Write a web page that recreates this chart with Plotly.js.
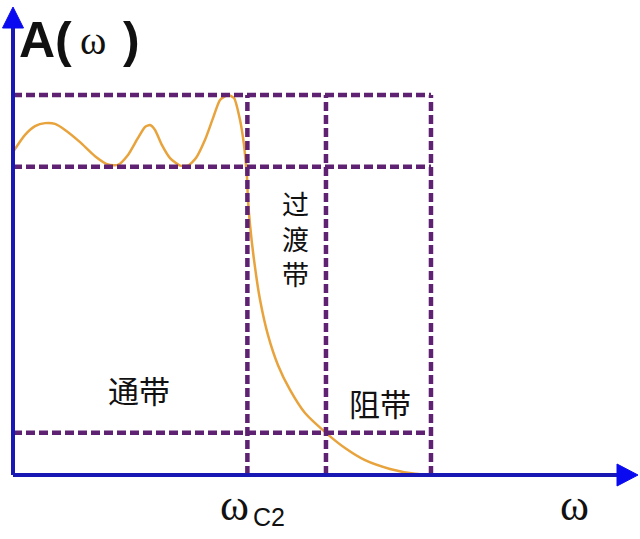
<!DOCTYPE html>
<html>
<head>
<meta charset="utf-8">
<script src="https://cdn.plot.ly/plotly-3.0.1.min.js"></script>
<style>html,body{margin:0;padding:0;background:#fff;}#chart{width:640px;height:539px;}</style>
</head>
<body>
<div id="chart"></div>
<script>
// ---- data (frequency ω, amplitude A) ----
var omega = [0, 0.154, 0.282, 0.41, 0.538, 0.666, 0.858, 1.05, 1.216, 1.344, 1.472, 1.6, 1.69, 1.754, 1.818, 1.907, 2.01, 2.138, 2.24, 2.342, 2.458, 2.56, 2.65, 2.752, 2.829, 2.906, 2.957, 2.982, 2.995, 3.008, 3.034, 3.085, 3.162, 3.264, 3.392, 3.546, 3.738, 4.006, 4.25, 4.506, 4.826, 5.146, 5.35, 5.658];
var amplitude = [0.85, 0.895, 0.918, 0.926, 0.924, 0.908, 0.876, 0.839, 0.817, 0.816, 0.842, 0.887, 0.916, 0.921, 0.908, 0.868, 0.834, 0.814, 0.814, 0.834, 0.882, 0.939, 0.987, 1.0, 0.992, 0.934, 0.868, 0.816, 0.785, 0.724, 0.658, 0.566, 0.461, 0.368, 0.289, 0.224, 0.163, 0.111, 0.071, 0.039, 0.016, 0.003, 0, 0];
var rippleLevels = [1.0, 0.811];        // passband ripple bounds
var stopLevel = 0.111;                   // stopband level
var bandEdges = [3.0, 4.006, 5.35];      // ωc2, ωs, end of stop band box
var bandLabels = ['通带', '过渡带', '阻带'];

// ---- pixel helpers for layout ----
var X0 = 13, PXU = 78.125, Y0 = 475, PYU = 380;
function px(p){ return (p - X0) / PXU; }
function py(p){ return (Y0 - p) / PYU; }

var purple = '#5f2272';
var dash = '9px,4px';
var shapes = [];
// horizontal dashed lines
rippleLevels.concat([stopLevel]).forEach(function(v){
  shapes.push({type:'line', xref:'x', yref:'y', x0:0, x1:bandEdges[2], y0:v, y1:v,
    line:{color:purple, width:4.5, dash:dash}});
});
// vertical dashed lines
bandEdges.forEach(function(v){
  shapes.push({type:'line', xref:'x', yref:'y', x0:v, x1:v, y0:0, y1:rippleLevels[0],
    line:{color:purple, width:4.5, dash:dash}});
});
// axes
var axisBlue = '#1818b4', arrowBlue = '#0a0af0';
shapes.push({type:'line', xref:'x', yref:'y', x0:0, x1:0, y0:0, y1:py(26), line:{color:axisBlue, width:4}});
shapes.push({type:'line', xref:'x', yref:'y', x0:0, x1:px(620), y0:0, y1:0, line:{color:axisBlue, width:4}});
shapes.push({type:'path', xref:'x', yref:'y',
  path:'M '+px(2.5)+' '+py(28)+' L '+px(13)+' '+py(7)+' L '+px(23.5)+' '+py(28)+' Z',
  fillcolor:arrowBlue, line:{color:arrowBlue, width:1}});
shapes.push({type:'path', xref:'x', yref:'y',
  path:'M '+px(617)+' '+py(464)+' L '+px(638)+' '+py(475)+' L '+px(617)+' '+py(486)+' Z',
  fillcolor:arrowBlue, line:{color:arrowBlue, width:1}});

var cjk = '"Noto Sans CJK SC", sans-serif';
function ann(text, x, y, size, family, extra){
  var a = {text:text, x:px(x), y:py(y), xref:'x', yref:'y', showarrow:false,
    xanchor:'center', yanchor:'middle', font:{size:size, family:family, color:'#111'}};
  for (var k in extra) a[k] = extra[k];
  return a;
}
var annotations = [
  ann('<b>A(</b>', 45, 40, 50, 'Liberation Sans, Arial, sans-serif'),
  ann('ω', 93, 40, 40, 'Liberation Serif, serif'),
  ann('<b>)</b>', 131, 40, 50, 'Liberation Sans, Arial, sans-serif'),
  ann(bandLabels[0], 139, 389, 31, cjk),
  ann(bandLabels[1].split('').join('<br>'), 295, 238, 27, cjk),
  ann(bandLabels[2], 380, 402, 31, cjk),
  ann('ω', 234, 505, 44, 'Liberation Serif, serif'),
  ann('C2', 269, 517, 25, 'Liberation Sans, Arial, sans-serif'),
  ann('ω', 574, 505, 44, 'Liberation Serif, serif')
];

var trace = {x:omega, y:amplitude, mode:'lines', type:'scatter',
  line:{color:'#e8a33c', width:2.5, shape:'spline', smoothing:0.6}, hoverinfo:'skip'};

var layout = {
  width:640, height:539, margin:{l:0, r:0, t:0, b:0},
  paper_bgcolor:'#fff', plot_bgcolor:'#fff', showlegend:false,
  xaxis:{range:[px(0), px(640)], visible:false, fixedrange:true},
  yaxis:{range:[py(539), py(0)], visible:false, fixedrange:true},
  shapes:shapes, annotations:annotations
};
Plotly.newPlot('chart', [trace], layout, {staticPlot:true});
</script>
</body>
</html>
